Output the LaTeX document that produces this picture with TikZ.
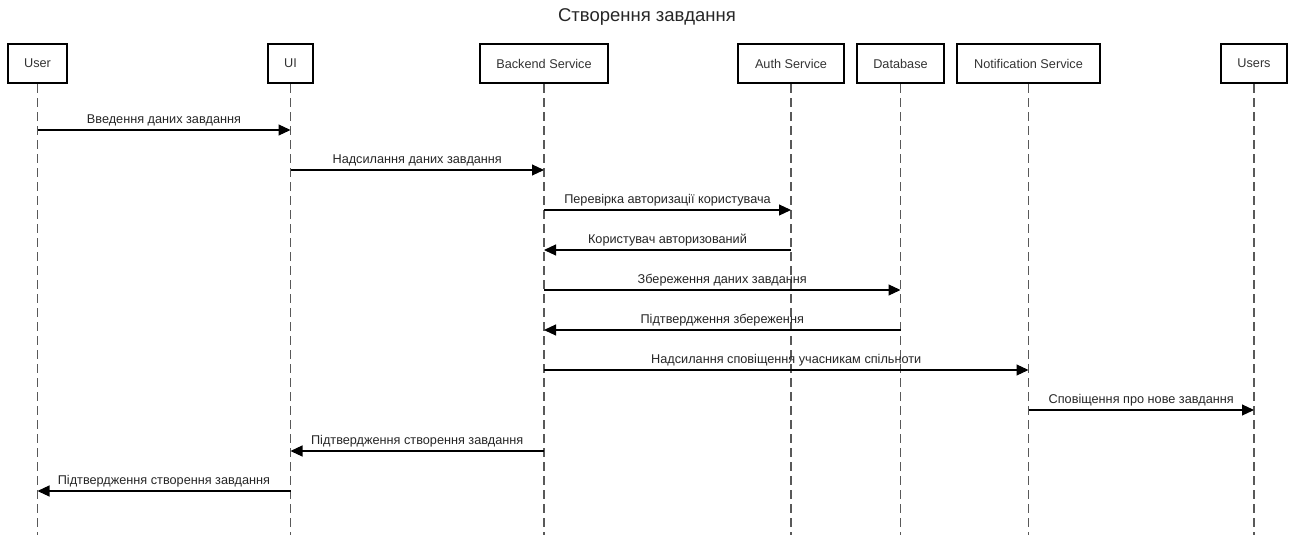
\documentclass[tikz,border=0pt]{standalone}
\usepackage{fontspec}
\setmainfont{Liberation Sans}
\usetikzlibrary{arrows.meta}
\begin{document}
\begin{tikzpicture}[x=1pt,y=-1pt,
  actor/.style={draw=black,line width=2pt,minimum height=39pt,inner sep=0pt,font=\fontsize{12.7}{15}\selectfont,text=black!80},
  lifeline/.style={draw=black!65,line width=1.6pt,dash pattern=on 9pt off 5pt},
  msg/.style={draw=black,line width=1.1pt,-{Triangle[length=12pt,width=11pt]}},
  lbl/.style={font=\fontsize{12.7}{15}\selectfont,text=black!85,above=2pt,inner sep=1pt}]
\useasboundingbox (0,0) rectangle (1296,535);
\node[font=\fontsize{18.5}{22}\selectfont,text=black!85] (title) at (647,17) {Створення завдання};
% participants
\node[actor,minimum width=59pt]  (user)  at (37.5,63.5)  {User};
\node[actor,minimum width=45pt]  (ui)    at (290.5,63.5) {UI};
\node[actor,minimum width=128pt] (be)    at (544,63.5)   {Backend Service};
\node[actor,minimum width=106pt] (auth)  at (791,63.5)   {Auth Service};
\node[actor,minimum width=87pt]  (db)    at (900.5,63.5) {Database};
\node[actor,minimum width=143pt] (notif) at (1028.5,63.5){Notification Service};
\node[actor,minimum width=66pt]  (users) at (1254,63.5)  {Users};
% lifeline ends
\foreach \n in {user,ui,be,auth,db,notif,users}{
  \coordinate (\n-end) at (\n.south |- 0,536);
  \draw[lifeline] (\n.south) -- (\n-end);
}
% messages
\foreach \a/\b/\y/\t in {
  user/ui/130/Введення даних завдання,
  ui/be/170/Надсилання даних завдання,
  be/auth/210/Перевірка авторизації користувача,
  auth/be/250/Користувач авторизований,
  be/db/290/Збереження даних завдання,
  db/be/330/Підтвердження збереження,
  be/notif/370/Надсилання сповіщення учасникам спільноти,
  notif/users/410/Сповіщення про нове завдання,
  be/ui/451/Підтвердження створення завдання,
  ui/user/491/Підтвердження створення завдання}{
  \coordinate (s) at (\a.south |- 0,\y);
  \coordinate (e) at (\b.south |- 0,\y);
  \draw[msg] (s) -- node[lbl] {\t} (e);
}
\end{tikzpicture}
\end{document}
